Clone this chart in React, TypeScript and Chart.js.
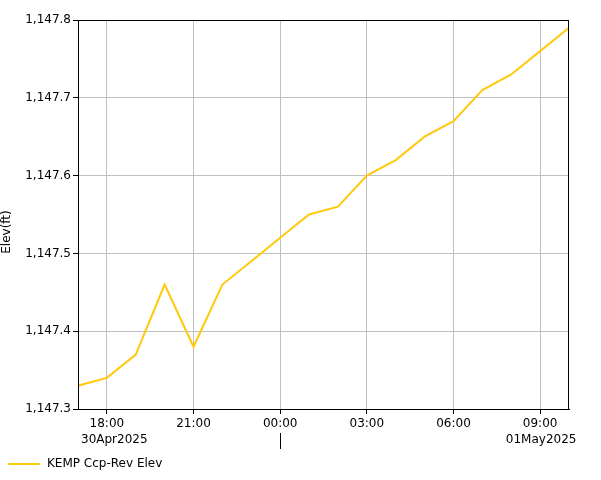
import React, { useEffect, useRef } from "react";
import { Chart, registerables } from "chart.js";

Chart.register(...registerables);

// hours since 00:00 30Apr2025
const hours = [17, 18, 19, 20, 21, 22, 23, 24, 25, 26, 27, 28, 29, 30, 31, 32, 33, 34];
const elev = [
  1147.33, 1147.34, 1147.37, 1147.46, 1147.38, 1147.46, 1147.49, 1147.52, 1147.55,
  1147.56, 1147.6, 1147.62, 1147.65, 1147.67, 1147.71, 1147.73, 1147.76, 1147.79,
];
const xTicks = [18, 21, 24, 27, 30, 33];
const xTickLabels = ["18:00", "21:00", "00:00", "03:00", "06:00", "09:00"];
const dateLabels = [
  { at: 18, text: "30Apr2025" },
  { at: 33, text: "01May2025" },
];
const dayBreak = 24;
const yTicks = [1147.3, 1147.4, 1147.5, 1147.6, 1147.7, 1147.8];
const seriesName = "KEMP Ccp-Rev Elev";
const yTitle = "Elev(ft)";

const FONT = "DejaVu Sans";
const LINE_COLOR = "#FFC90E";

export default function App() {
  const ref = useRef<HTMLCanvasElement | null>(null);

  useEffect(() => {
    document.body.style.margin = "0";
    const canvas = ref.current!;
    const extras = {
      id: "extras",
      afterDraw(chart: any) {
        const { ctx, chartArea: a } = chart;
        const xs = chart.scales.x;
        ctx.save();
        ctx.strokeStyle = "#000";
        ctx.lineWidth = 1;
        ctx.strokeRect(Math.round(a.left) + 0.5, Math.round(a.top) + 0.5, Math.round(a.right - a.left) - 1, Math.round(a.bottom - a.top));
        // y title
        ctx.fillStyle = "#000";
        ctx.font = `12px "${FONT}"`;
        ctx.textAlign = "center";
        ctx.textBaseline = "middle";
        ctx.save();
        ctx.translate(7, 232);
        ctx.rotate(-Math.PI / 2);
        ctx.fillText(yTitle, 0, 0);
        ctx.restore();
        // date labels (second row)
        const rowY = 440;
        dateLabels.forEach((d) => {
          const px = xs.getPixelForValue(d.at);
          const w = ctx.measureText(d.text).width;
          let left = px - w / 2;
          if (left < a.left + 2) left = a.left + 2;
          ctx.textAlign = "left";
          ctx.fillText(d.text, left + 1, rowY);
        });
        // day break marker
        const bx = Math.round(xs.getPixelForValue(dayBreak)) + 0.5;
        ctx.beginPath();
        ctx.moveTo(bx, 433);
        ctx.lineTo(bx, 449);
        ctx.stroke();
        ctx.restore();
        // legend
        ctx.save();
        ctx.strokeStyle = LINE_COLOR;
        ctx.lineWidth = 2;
        ctx.beginPath();
        ctx.moveTo(8, 464);
        ctx.lineTo(40, 464);
        ctx.stroke();
        ctx.fillStyle = "#000";
        ctx.font = `12px "${FONT}"`;
        ctx.textAlign = "left";
        ctx.textBaseline = "middle";
        ctx.fillText(seriesName, 47, 464);
        ctx.restore();
      },
    };
    const chart = new Chart(canvas, {
      type: "line",
      data: {
        datasets: [
          {
            label: seriesName,
            data: hours.map((h, i) => ({ x: h, y: elev[i] })),
            borderColor: LINE_COLOR,
            borderWidth: 2,
            pointRadius: 0,
            tension: 0,
            fill: false,
          },
        ],
      },
      options: {
        animation: false,
        responsive: false,
        devicePixelRatio: 1,
        layout: { padding: { top: 20, right: 32, left: 0, bottom: 0 } },
        plugins: { legend: { display: false }, tooltip: { enabled: false } },
        scales: {
          x: {
            type: "linear",
            min: 17,
            max: 34,
            afterFit(scale: any) {
              scale.height = 71;
            },
            afterBuildTicks(scale: any) {
              scale.ticks = xTicks.map((v) => ({ value: v }));
            },
            grid: { color: "#c0c0c0", tickColor: "#000", tickLength: 5, drawOnChartArea: true },
            border: { display: true, color: "#000" },
            ticks: {
              color: "#000",
              font: { family: FONT, size: 12 },
              padding: 3,
              maxRotation: 0,
              autoSkip: false,
              callback: (v: any) => {
                const i = xTicks.indexOf(Number(v));
                return i >= 0 ? xTickLabels[i] : "";
              },
            },
          },
          y: {
            type: "linear",
            min: 1147.3,
            max: 1147.8,
            afterFit(scale: any) {
              scale.width = 78;
            },
            afterBuildTicks(scale: any) {
              scale.ticks = yTicks.map((v) => ({ value: v }));
            },
            grid: { color: "#c0c0c0", tickColor: "#000", tickLength: 5 },
            border: { display: true, color: "#000" },
            ticks: {
              color: "#000",
              font: { family: FONT, size: 12 },
              padding: 2,
              callback: (v: any) =>
                Number(v).toLocaleString("en-US", { minimumFractionDigits: 1, maximumFractionDigits: 1 }),
            },
          },
        },
      },
      plugins: [extras],
    } as any);
    return () => chart.destroy();
  }, []);

  return (
    <div style={{ position: "absolute", left: 0, top: 0, width: 601, height: 480, background: "#fff" }}>
      <canvas ref={ref} width={601} height={480} style={{ width: 601, height: 480 }} />
    </div>
  );
}
